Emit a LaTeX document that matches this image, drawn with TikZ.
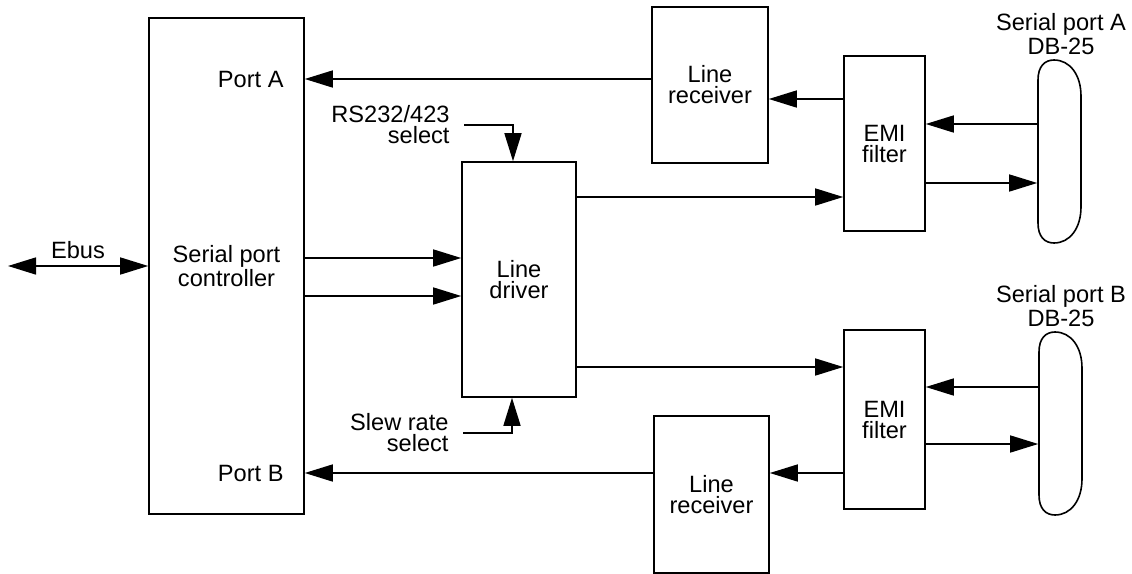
\documentclass[tikz,border=0pt]{standalone}
\usepackage{fontspec}
\setmainfont{Liberation Sans}
\usetikzlibrary{arrows.meta, positioning}

\tikzset{
	block/.style = {draw, align = center, inner sep = 0pt},
	pics/dbconn/.style = {code = {
		\draw (0, 20) .. controls (0, 6) and (7, 0) .. (16, 0) .. controls (32, 0) and (43, 15) .. (43, 36) -- (43, 147) .. controls (43, 168) and (32, 183) .. (16, 183) .. controls (7, 183) and (0, 177) .. (0, 163) -- cycle;
		\node [inner sep = 0pt, minimum width = 21.5pt, minimum height = 91.5pt] (-body) at (21.5, 91.5) {};
	}}
}

\begin{document}
\begin{tikzpicture}[> = {Triangle[length = 14pt, width = 8.5pt]}, x = 0.5pt, y = -0.5pt, line width = 0.8pt, font = \fontsize{11.8}{10.5}\selectfont]

	\useasboundingbox (0, 0) rectangle (1132, 574);

	% Blocks

	\node [block, minimum width = 77.5pt, minimum height = 248pt] (ctrl) at (226.5, 266) {Serial port\\controller};
	\node [block, minimum width = 57pt, minimum height = 117.5pt] (drv) at (519, 279.5) {Line\\driver};
	\node [block, minimum width = 58pt, minimum height = 78pt] (recA) at (710, 85) {Line\\receiver};
	\node [block, minimum width = 57.5pt, minimum height = 78.5pt] (recB) at (711.5, 494.5) {Line\\receiver};
	\node [block, minimum width = 40.5pt, minimum height = 87.5pt] (emiA) at (884.5, 143.5) {EMI\\filter};
	\node [block, minimum width = 40.5pt, minimum height = 89.5pt] (emiB) at (884.5, 419.5) {EMI\\filter};

	\node [anchor = east] (porta) at (291, 79) {Port A};
	\node [anchor = east] (portb) at (291, 473) {Port B};

	% Connectors

	\pic (dbA) at (1038, 60) {dbconn};
	\pic (dbB) at (1039, 332) {dbconn};
	\node [align = center] (labA) at (1061, 34) {Serial port A\\DB-25};
	\node [align = center] (labB) at (1061, 306) {Serial port B\\DB-25};

	% Ebus

	\coordinate (ebus) at (8, 266);
	\draw [<->] (ebus) -- (ctrl.west);
	\node (ebuslbl) at (78, 250) {Ebus};

	% Select lines

	\node [anchor = east, align = right] (rssel) at (457, 125) {RS232/423\\select};
	\draw [->] ([xshift = 3.5pt] rssel.east) -| (drv.north -| 513, 0);
	\node [anchor = east, align = right] (slew) at (456, 433) {Slew rate\\select};
	\draw [->] ([xshift = 3.5pt] slew.east) -| (drv.south -| 512, 0);

	% Signal paths

	\draw [->] (ctrl.east |- 0, 258) -- (drv.west |- 0, 258);
	\draw [->] (ctrl.east |- 0, 296) -- (drv.west |- 0, 296);
	\draw [->] (drv.east |- 0, 197) -- (emiA.west |- 0, 197);
	\draw [->] (drv.east |- 0, 367) -- (emiB.west |- 0, 367);

	\draw [->] (recA.west |- porta) -- (ctrl.east |- porta);
	\draw [->] (emiA.west |- 0, 99) -- (recA.east |- 0, 99);
	\draw [->] (dbA-body.west |- 0, 124) -- (emiA.east |- 0, 124);
	\draw [->] (emiA.east |- 0, 183) -- (dbA-body.west |- 0, 183);

	\draw [->] (recB.west |- portb) -- (ctrl.east |- portb);
	\draw [->] (emiB.west |- portb) -- (recB.east |- portb);
	\draw [->] (dbB-body.west |- 0, 387) -- (emiB.east |- 0, 387);
	\draw [->] (emiB.east |- 0, 444) -- (dbB-body.west |- 0, 444);

\end{tikzpicture}
\end{document}
